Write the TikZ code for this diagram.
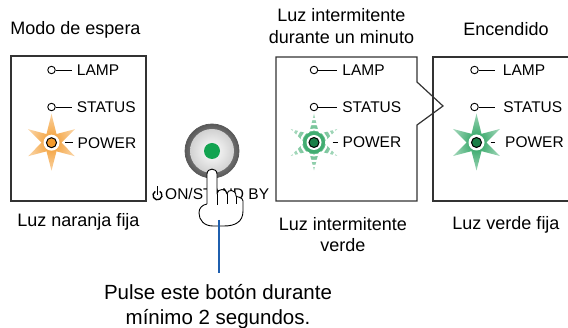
\documentclass[tikz,border=0pt]{standalone}
\usepackage{fontspec}
\setmainfont{Liberation Sans}
\usetikzlibrary{positioning}
\definecolor{ledorange}{HTML}{F39A2C}
\definecolor{ledgreen}{HTML}{1F9E58}
\definecolor{btngreen}{HTML}{12A350}
\definecolor{pointerblue}{HTML}{1F5FAE}
\definecolor{framegray}{HTML}{333333}
\tikzset{
  panel/.style={draw=framegray,line width=1.2pt,outer sep=0pt},
  caption/.style={inner sep=0pt,align=center,font=\fontsize{18}{21.6}\selectfont},
  note/.style={inner sep=0pt,align=center,font=\fontsize{20.5}{25}\selectfont},
  ledlabel/.style={inner sep=0pt,font=\fontsize{15.5}{18}\selectfont},
  ledoff/.style={circle,draw=black,line width=0.9pt,fill=white,inner sep=0pt,minimum size=7.5pt},
  ledon/.style={circle,draw=black,line width=1pt,fill=#1,inner sep=0pt,minimum size=10pt},
  lead/.style={draw=black,line width=0.9pt},
  hand/.style={draw=black,fill=white,line width=0.9pt,line join=round},
  pointer/.style={draw=pointerblue,line width=2pt},
  starpath/.style={insert path={(90:28) -- (120:10) -- (150:27) -- (180:10) -- (210:27)
    -- (240:10) -- (270:29) -- (300:10) -- (330:27) -- (0:10) -- (30:27) -- (60:10) -- cycle}},
  pics/flash/.style={code={
    \shade[inner color=#1,outer color=#1!45,starpath];
    \fill[white] (0,0) circle (8pt);
  }},
  pics/blink/.style={code={
    \shade[inner color=#1!90,outer color=#1!35,starpath];
    \draw[white,line width=2pt] (0,0) circle (13pt) (0,0) circle (18.5pt) (0,0) circle (23.5pt);
    \fill[#1!85] (0,0) circle (11pt);
    \fill[white] (0,0) circle (7.5pt);
  }}
}
\begin{document}
\begin{tikzpicture}[x=1pt,y=-1pt]
\useasboundingbox (0,0) rectangle (568,328);

% panels
\node[panel,anchor=north west,minimum width=135pt,minimum height=145pt] (waitbox) at (11,56) {};
\draw[panel] (276,57) -- (417,57) -- (417,82) -- (443,106) -- (417,125) -- (417,201) -- (276,201) -- cycle;
\draw[panel] (568,57) -- (433,57) -- (433,201) -- (568,201);

% captions (base = last line)
\node[caption,anchor=base] (waittitle) at (75.5,35) {Modo de espera};
\node[caption,anchor=base] (blinktitle) at (341.5,43.3) {Luz intermitente\\durante un minuto};
\node[caption,anchor=base] (ontitle) at (506,36) {Encendido};
\node[caption,anchor=base] (waitnote) at (78.5,227) {Luz naranja fija};
\node[caption,anchor=base] (blinknote) at (343,252) {Luz intermitente\\verde};
\node[caption,anchor=base] (onnote) at (506,230) {Luz verde fija};

% standby panel
\pic at (51.5,142.7) {flash=ledorange};
\node[ledoff] (lampwait) at (51.5,70) {};
\node[ledoff] (statuswait) at (51.5,107) {};
\node[ledon=ledorange] (powerwait) at (51.5,142.7) {};
\node[ledlabel,right=21pt of lampwait] (lampwaittxt) {LAMP};
\node[ledlabel,right=21pt of statuswait] (statuswaittxt) {STATUS};
\node[ledlabel,right=20.5pt of powerwait] (powerwaittxt) {POWER};
\draw[lead,shorten >=4.5pt] (lampwait) -- (lampwait -| lampwaittxt.west);
\draw[lead,shorten >=4.5pt] (statuswait) -- (statuswait -| statuswaittxt.west);
\draw[lead,shorten <=8pt,shorten >=5pt] (powerwait) -- (powerwait -| powerwaittxt.west);

% blinking panel
\pic at (314,142.5) {blink=ledgreen};
\node[ledoff] (lampblink) at (314,70) {};
\node[ledoff] (statusblink) at (314,107) {};
\node[ledon=ledgreen!80!black] (powerblink) at (314,142.5) {};
\node[ledlabel,right=24pt of lampblink] (lampblinktxt) {LAMP};
\node[ledlabel,right=24pt of statusblink] (statusblinktxt) {STATUS};
\node[ledlabel,right=23pt of powerblink] (powerblinktxt) {POWER};
\draw[lead,shorten >=5pt] (lampblink) -- (lampblink -| lampblinktxt.west);
\draw[lead,shorten >=5pt] (statusblink) -- (statusblink -| statusblinktxt.west);
\draw[lead,shorten <=13pt,shorten >=5pt] (powerblink) -- (powerblink -| powerblinktxt.west);

% power-on panel
\pic at (476.5,142.5) {flash=ledgreen};
\node[ledoff] (lampon) at (474.5,70) {};
\node[ledoff] (statuson) at (474.5,107) {};
\node[ledon=ledgreen!80!black] (poweron) at (476.5,142.5) {};
\node[ledlabel,right=24pt of lampon] (lampontxt) {LAMP};
\node[ledlabel,right=24.5pt of statuson] (statusontxt) {STATUS};
\node[ledlabel,right=23pt of poweron] (powerontxt) {POWER};
\draw[lead,shorten >=8pt] (lampon) -- (lampon -| lampontxt.west);
\draw[lead,shorten >=8pt] (statuson) -- (statuson -| statusontxt.west);
\draw[lead,shorten <=8.5pt,shorten >=10pt] (poweron) -- (poweron -| powerontxt.west);

% button
\node[circle,minimum size=54pt,inner sep=0pt,draw=black!65,line width=0.8pt,
  inner color=black!25,outer color=black!65] (button) at (212,151) {};
\shade[inner color=white,outer color=black!18] (button) circle (22pt);
\node[circle,fill=btngreen,minimum size=16pt,inner sep=0pt] (buttonlamp) at (button) {};
\node[ledlabel,anchor=base west] (buttonlabel) at (165,200) {ON/STAND BY};
\draw[line width=1.4pt] (157.5,195.3) ++(120:4.5pt) arc[start angle=120,end angle=420,radius=4.5pt];
\draw[line width=1.4pt] (157.5,186.5) -- (157.5,195);

% hand
\draw[hand] (207,204) -- (207,174) .. controls (207,167.5) and (217,167.5) .. (217,174) -- (217,194)
  .. controls (217,188) and (227,188) .. (227,194)
  .. controls (227,189) and (236,189) .. (236,196)
  .. controls (236,197) and (243,197) .. (243,201)
  -- (243,211) .. controls (243,222) and (235,226) .. (224,226)
  -- (213,226) .. controls (204,226) and (199,220) .. (199,213)
  .. controls (199,208) and (202,205) .. (207,204);
\draw[lead] (217,194) -- (217,205) (227,194) -- (227,204) (236,196) -- (236,204);

% press note
\coordinate (tap) at (219,220);
\node[note,anchor=base] (presstext) at (218,325) {Pulse este botón durante\\mínimo 2 segundos.};
\draw[pointer,shorten >=12pt] (tap) -- (tap |- presstext.north);
\end{tikzpicture}
\end{document}
